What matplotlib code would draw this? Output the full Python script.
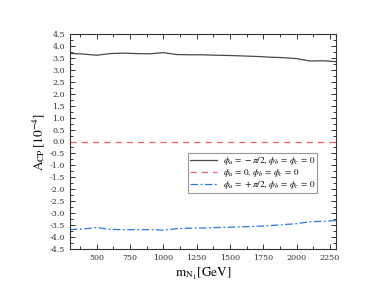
import numpy as np
import matplotlib
matplotlib.use("Agg")
import matplotlib.pyplot as plt
from matplotlib.ticker import MultipleLocator

plt.rcParams["font.family"] = "DejaVu Serif"
plt.rcParams["mathtext.fontset"] = "stix"

# masses in GeV
mass = [300, 400, 500, 600, 700, 800, 900, 1000, 1100, 1200, 1300,
        1400, 1500, 1600, 1700, 1800, 1900, 2000, 2100, 2200, 2300]

# A_CP in units of 1e-4
acp_minus = [3.69, 3.66, 3.61, 3.68, 3.70, 3.68, 3.67, 3.72, 3.64, 3.63, 3.63,
             3.61, 3.60, 3.58, 3.56, 3.53, 3.51, 3.47, 3.37, 3.38, 3.34]
acp_zero = [0.0] * len(mass)
acp_plus = [-3.69, -3.66, -3.60, -3.68, -3.69, -3.69, -3.69, -3.71, -3.65, -3.63, -3.62,
            -3.60, -3.59, -3.57, -3.55, -3.52, -3.48, -3.44, -3.36, -3.34, -3.31]

labels = [r"$\phi_a\,=\,-\pi/2,\,\phi_b\,=\,\phi_c\,=\,0$",
          r"$\phi_a\,=\,0,\,\phi_b\,=\,\phi_c\,=\,0$",
          r"$\phi_a\,=\,+\pi/2,\,\phi_b\,=\,\phi_c\,=\,0$"]

fig = plt.figure(figsize=(3.9, 2.99), dpi=100)
ax = fig.add_axes([70 / 390, 1 - 249 / 299, 266 / 390, 215 / 299])

ax.plot(mass, acp_minus, color="#4a4a4a", lw=0.9, ls="-", label=labels[0])
ax.plot(mass, acp_zero, color="#f06464", lw=0.9, ls=(0, (5, 4)), label=labels[1])
ax.plot(mass, acp_plus, color="#2a7ae8", lw=0.9, ls=(0, (6, 2, 1.5, 2)), label=labels[2])

ax.set_xlim(300, 2295)
ax.set_ylim(-4.5, 4.5)
ax.xaxis.set_minor_locator(MultipleLocator(125))
ax.yaxis.set_major_locator(MultipleLocator(0.5))
ax.yaxis.set_minor_locator(MultipleLocator(0.25))
ax.set_xticks([500, 750, 1000, 1250, 1500, 1750, 2000, 2250])
ax.yaxis.set_major_formatter(matplotlib.ticker.FormatStrFormatter("%.1f"))

ax.tick_params(which="both", direction="in", top=True, right=True,
               labelsize=5.8, width=0.7, colors="#333333")
ax.tick_params(which="major", length=3.5)
ax.tick_params(which="minor", length=2)
for s in ax.spines.values():
    s.set_linewidth(0.8)
    s.set_color("#333333")

ax.set_ylabel(r"$\mathrm{A_{CP}}\,[10^{-4}]$", fontsize=9.5, labelpad=2)
ax.set_xlabel(r"$\mathrm{m_{N_1}[GeV]}$", fontsize=9.5, labelpad=3)

leg = ax.legend(loc="upper right", bbox_to_anchor=(247 / 266, 96 / 215), fontsize=6.6,
                frameon=True, fancybox=False, edgecolor="#999999", framealpha=1,
                handlelength=3.0, borderpad=0.2, labelspacing=0.0, handletextpad=0.6,
                borderaxespad=0)
leg.get_frame().set_linewidth(0.8)

fig.savefig("out.png", dpi=100)
